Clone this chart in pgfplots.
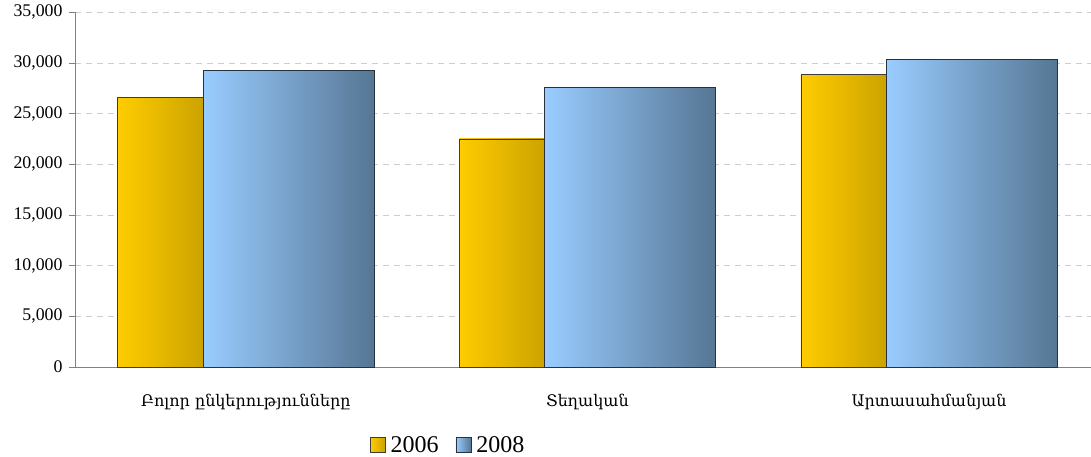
\documentclass[border=0pt]{standalone}
\usepackage{fontspec}
\setmainfont{Liberation Serif}
\newfontfamily\armfont{DejaVu Serif}
\usepackage{pgfplots}
\usepackage{pgfplotstable}
\pgfplotsset{compat=1.18}

\definecolor{goldL}{RGB}{255,204,0}
\definecolor{goldR}{RGB}{204,163,0}
\definecolor{blueL}{RGB}{153,204,255}
\definecolor{blueR}{RGB}{86,118,148}
\definecolor{gridc}{RGB}{205,205,205}
\definecolor{axisc}{RGB}{128,128,128}
\definecolor{edgeA}{RGB}{60,60,60}
\definecolor{edgeB}{RGB}{40,50,62}

% square legend swatch
\pgfplotsset{sqlegend/.style={legend image code/.code={%
  \draw[##1] (0pt,-7.5pt) rectangle (15pt,7.5pt);}}}
% bar styles for the two years
\pgfplotsset{
  barA/.style={ybar, sqlegend, bar width=0.25, bar shift=-0.25,
    left color=goldL, right color=goldR, draw=edgeA, line width=0.8pt},
  barB/.style={ybar, sqlegend, bar width=0.5, bar shift=0.125,
    left color=blueL, right color=blueR, draw=edgeB, line width=0.8pt},
}

% employees by company type
\pgfplotstableread{
x y
0 26600
1 22500
2 28900
}\yearA
\pgfplotstableread{
x y
0 29250
1 27550
2 30350
}\yearB

\begin{document}
\begin{tikzpicture}[x=1pt,y=1pt]
\path[use as bounding box] (0,0) rectangle (1091,457);
\begin{axis}[
  at={(75pt,90pt)}, anchor=south west,
  scale only axis, width=1016pt, height=354.7pt,
  xmin=-0.5, xmax=2.474, ymin=0, ymax=35000,
  ybar,
  xtick={0,1,2},
  xticklabels={Բոլոր ընկերությունները, Տեղական, Արտասահմանյան},
  xticklabel style={font=\armfont\fontsize{16}{16}\selectfont, yshift=-18pt},
  xtick style={draw=none},
  ytick={0,5000,...,35000},
  scaled y ticks=false,
  yticklabel style={font=\fontsize{17.8}{17.8}\selectfont, xshift=-3pt,
    /pgf/number format/.cd, 1000 sep={,}, assume math mode=true},
  tick align=outside,
  ytick style={axisc, thin},
  major tick length=6pt,
  ymajorgrids,
  grid style={gridc, thin, dash pattern=on 6pt off 5pt},
  axis x line*=bottom, axis y line*=left,
  axis line style={axisc, thin},
  clip=false,
  legend columns=2,
  legend style={draw=none, fill=none, at={(0.3686,-0.22)}, anchor=center,
    font=\fontsize{24}{24}\selectfont,
    /tikz/every even column/.append style={column sep=12pt},
    nodes={inner sep=5pt}},
]
% each bar drawn on its own so its gradient spans only that bar
\addplot[barA, restrict x to domain=0:0] table[x=x, y=y] {\yearA};
\addlegendentry{2006}
\addplot[barB, restrict x to domain=0:0] table[x=x, y=y] {\yearB};
\addlegendentry{2008}
\addplot[barA, forget plot, restrict x to domain=1:1] table[x=x, y=y] {\yearA};
\addplot[barB, forget plot, restrict x to domain=1:1] table[x=x, y=y] {\yearB};
\addplot[barA, forget plot, restrict x to domain=2:2] table[x=x, y=y] {\yearA};
\addplot[barB, forget plot, restrict x to domain=2:2] table[x=x, y=y] {\yearB};
\end{axis}
\end{tikzpicture}
\end{document}
